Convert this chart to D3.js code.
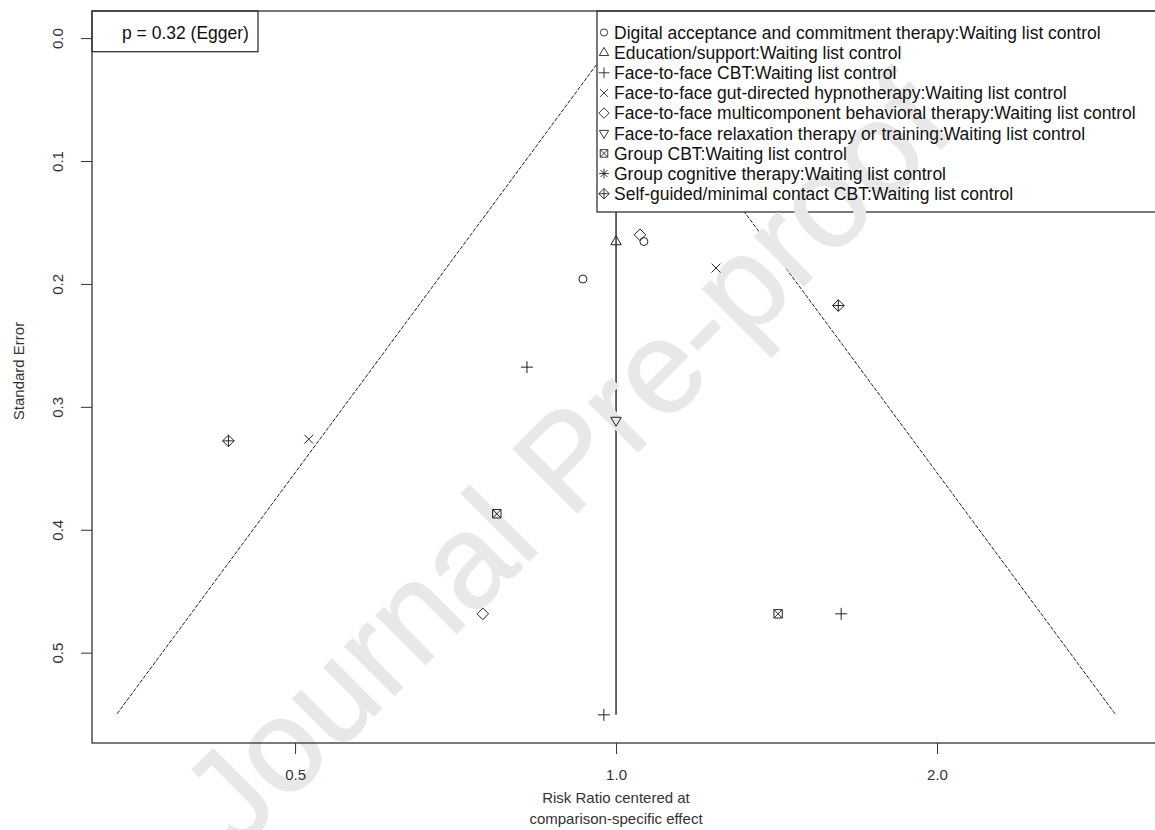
<!DOCTYPE html>
<html>
<head>
<meta charset="utf-8">
<script src="https://cdn.jsdelivr.net/npm/d3@7"></script>
<style>
  html, body { margin: 0; padding: 0; background: #fff; }
  svg { display: block; font-family: "Liberation Sans", Arial, sans-serif; }
</style>
</head>
<body>
<svg id="chart" width="1155" height="830"></svg>
<script>
// ---- data ----
const comparisons = [
  "Digital acceptance and commitment therapy:Waiting list control",
  "Education/support:Waiting list control",
  "Face-to-face CBT:Waiting list control",
  "Face-to-face gut-directed hypnotherapy:Waiting list control",
  "Face-to-face multicomponent behavioral therapy:Waiting list control",
  "Face-to-face relaxation therapy or training:Waiting list control",
  "Group CBT:Waiting list control",
  "Group cognitive therapy:Waiting list control",
  "Self-guided/minimal contact CBT:Waiting list control"
];
const symbols = [1, 2, 3, 4, 5, 6, 7, 8, 9]; // R pch codes per comparison

// study points: comparison index, centered risk ratio, standard error
const pointComparison = [0, 0, 1, 2, 2, 2, 3, 3, 4, 4, 5, 6, 6, 8, 8];
const pointRR =         [0.931, 1.062, 1.000, 0.825, 1.626, 0.974, 1.241, 0.515, 1.053, 0.750, 1.000, 0.773, 1.419, 1.616, 0.433];
const pointSE =         [0.196, 0.1655, 0.1655, 0.2677, 0.4684, 0.5506, 0.1871, 0.3263, 0.160, 0.4684, 0.3111, 0.387, 0.4684, 0.2176, 0.3277];

const xTicks = [0.5, 1.0, 2.0];
const yTicks = [0.0, 0.1, 0.2, 0.3, 0.4, 0.5];
const eggerLabel = "p = 0.32 (Egger)";
const xTitle = ["Risk Ratio centered at", "comparison-specific effect"];
const yTitle = "Standard Error";
const funnelZ = 1.96;
const watermark = "Journal Pre-proof";

// ---- layout ----
const svg = d3.select("#chart");
const pL = 92, pR = 1160, pT = 11, pB = 743;

const x = d3.scaleLog().domain([0.3225, 3.237]).range([pL, pR]);
const y = d3.scaleLinear().domain([-0.02206, 0.5735]).range([pT, pB]);

const seMax = d3.max(pointSE);

// funnel lines
const line = d3.line().x(d => x(d[0])).y(d => y(d[1]));
const funnelL = [[1, 0], [Math.exp(-funnelZ * seMax), seMax]];
const funnelR = [[1, 0], [Math.exp(funnelZ * seMax), seMax]];
[funnelL, funnelR].forEach(p => {
  svg.append("path").attr("d", line(p))
    .attr("fill", "none").attr("stroke", "#222").attr("stroke-width", 1)
    .attr("stroke-dasharray", "4,1.5");
});
// vertical reference line
svg.append("path").attr("d", line([[1, 0], [1, seMax]]))
  .attr("fill", "none").attr("stroke", "#000").attr("stroke-width", 1.2);

// Egger box + legend boxes (white, cover lines)
const legX = 597, legH = 201;
svg.append("rect").attr("x", legX).attr("y", pT).attr("width", pR - legX).attr("height", legH)
  .attr("fill", "#fff").attr("stroke", "#333").attr("stroke-width", 1.3);
svg.append("rect").attr("x", pL).attr("y", pT).attr("width", 166).attr("height", 40.7)
  .attr("fill", "#fff").attr("stroke", "#333").attr("stroke-width", 1.3);

// watermark
svg.append("text")
  .attr("transform", "translate(598,492) rotate(-45)")
  .attr("text-anchor", "middle")
  .attr("font-size", 132)
  .attr("font-family", "Liberation Sans, Arial")
  .attr("fill", "#e8e8e8").attr("stroke", "#e8e8e8").attr("stroke-width", 1.2)
  .attr("stroke-linejoin", "round")
  .text(watermark);

// symbol drawer
function drawSymbol(g, pch, cx, cy) {
  const s = g.append("g").attr("transform", `translate(${cx},${cy})`)
    .attr("fill", "none").attr("stroke", "#222").attr("stroke-width", 1);
  const p = (d) => s.append("path").attr("d", d);
  switch (pch) {
    case 1: s.append("circle").attr("r", 4); break;
    case 2: p("M0,-5.8L5.2,3.2L-5.2,3.2Z"); break;
    case 3: p("M-6,0H6M0,-6V6"); break;
    case 4: p("M-4.4,-4.4L4.4,4.4M-4.4,4.4L4.4,-4.4"); break;
    case 5: p("M0,-5.8L5.8,0L0,5.8L-5.8,0Z"); break;
    case 6: p("M0,5.8L5.2,-3.2L-5.2,-3.2Z"); break;
    case 7: p("M-4.2,-4.2H4.2V4.2H-4.2ZM-4.2,-4.2L4.2,4.2M-4.2,4.2L4.2,-4.2"); break;
    case 8: p("M-5.5,0H5.5M0,-5.5V5.5M-3.9,-3.9L3.9,3.9M-3.9,3.9L3.9,-3.9"); break;
    case 9: p("M0,-5.8L5.8,0L0,5.8L-5.8,0ZM-5.8,0H5.8M0,-5.8V5.8"); break;
  }
}

// points
const gPts = svg.append("g");
pointRR.forEach((rr, i) => {
  drawSymbol(gPts, symbols[pointComparison[i]], x(rr), y(pointSE[i]));
});

// plot box
svg.append("rect").attr("x", pL).attr("y", pT)
  .attr("width", pR - pL).attr("height", pB - pT)
  .attr("fill", "none").attr("stroke", "#333").attr("stroke-width", 1.3);

// x axis
const xAxis = svg.append("g").attr("transform", `translate(0,${pB})`)
  .call(d3.axisBottom(x).tickValues(xTicks).tickFormat(d3.format(".1f")).tickSize(11).tickSizeOuter(0));
xAxis.select(".domain").remove();
xAxis.selectAll("line").attr("stroke", "#333");
xAxis.selectAll("text").attr("font-size", 15).attr("fill", "#333")
  .attr("font-family", "Liberation Sans, Arial").attr("dy", "0.71em").attr("y", 26);

// y axis
const yAxis = svg.append("g").attr("transform", `translate(${pL},0)`)
  .call(d3.axisLeft(y).tickValues(yTicks).tickFormat(d3.format(".1f")).tickSize(11).tickSizeOuter(0));
yAxis.select(".domain").remove();
yAxis.selectAll("line").attr("stroke", "#333");
yAxis.selectAll("text").attr("font-size", 15).attr("fill", "#333")
  .attr("font-family", "Liberation Sans, Arial")
  .attr("x", null).attr("dy", null)
  .attr("transform", "translate(-35,0) rotate(-90)")
  .attr("text-anchor", "middle").attr("dominant-baseline", "central");

// axis titles
svg.append("text").attr("x", 616).attr("y", 803).attr("text-anchor", "middle")
  .attr("font-size", 15).attr("fill", "#333").text(xTitle[0]);
svg.append("text").attr("x", 616).attr("y", 824).attr("text-anchor", "middle")
  .attr("font-size", 15).attr("fill", "#333").text(xTitle[1]);
svg.append("text").attr("transform", `translate(24,${(pT + pB) / 2 - 6}) rotate(-90)`)
  .attr("text-anchor", "middle").attr("font-size", 15).attr("fill", "#333").text(yTitle);

// Egger text
svg.append("text").attr("x", 122).attr("y", 38.5).attr("font-size", 17.5).attr("fill", "#111")
  .text(eggerLabel);

// legend entries
const gLeg = svg.append("g");
comparisons.forEach((c, i) => {
  const cy = 32.5 + 20.15 * i;
  const tmp = gLeg.append("g").attr("transform", `translate(604,${cy}) scale(0.9)`);
  drawSymbol(tmp, symbols[i], 0, 0);
  gLeg.append("text").attr("x", 614).attr("y", cy).attr("dy", "0.36em")
    .attr("font-size", 17.5).attr("fill", "#111").text(c);
});
</script>
</body>
</html>
